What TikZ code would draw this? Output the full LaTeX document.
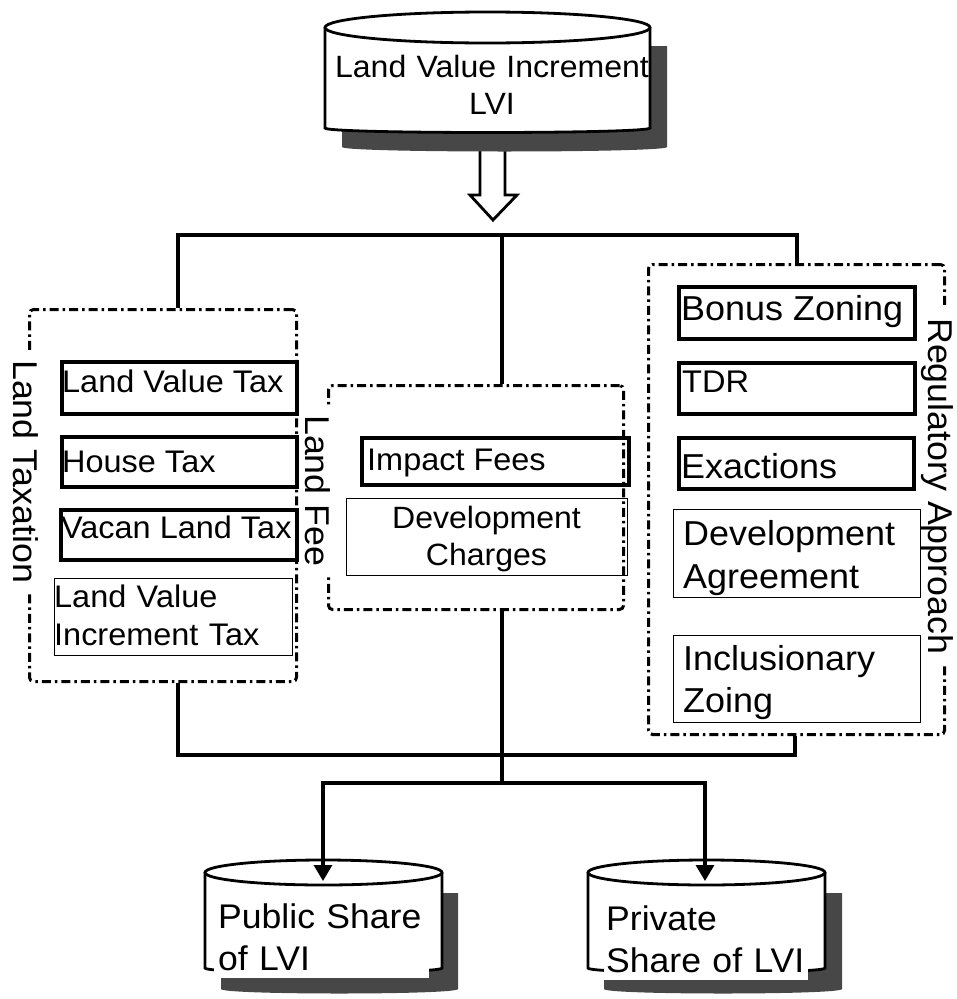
\documentclass[tikz,border=0pt]{standalone}
\usepackage{fontspec}
\setmainfont{Liberation Sans}[FakeStretch=1.04]
\usetikzlibrary{arrows.meta}
\begin{document}
\begin{tikzpicture}[x=1pt,y=-1pt,
  conn/.style={line width=3.2pt},
  grpbox/.style={draw, line width=3pt, dash pattern=on 9pt off 4pt on 2.5pt off 4pt, rounded corners=4pt, inner sep=0pt, anchor=north west},
  tbox/.style={draw, line width=3.6pt, inner sep=0pt, anchor=north west},
  nbox/.style={draw, line width=1.3pt, inner sep=0pt, anchor=north west},
  fS/.style={font=\fontsize{31.2}{38}\selectfont},
  fM/.style={font=\fontsize{30.8}{37}\selectfont},
  fL/.style={font=\fontsize{34.6}{43}\selectfont},
  fB/.style={font=\fontsize{34.2}{42}\selectfont},
  txt/.style={inner sep=0pt, anchor=base west},
  mtxt/.style={inner sep=0pt, anchor=base west, align=left},
  side/.style={font=\fontsize{34.4}{42}\selectfont, rotate=-90, anchor=base west, fill=white, inner xsep=10pt, inner ysep=2pt},
  shadowfill/.style={fill=black!72},
  tip/.style={-{Triangle[length=16pt,width=18pt]}}
]
\useasboundingbox (0,0) rectangle (957,999);

% ---------- top cylinder ----------
\draw[line width=2.8pt, fill=white] (480,145) -- (505,145) -- (505,195) -- (517,195) -- (493,220) -- (470,195) -- (480,195) -- cycle;
\fill[shadowfill] (342,46) -- (342,147) .. controls (342,153) and (667,153) .. (667,147) -- (667,46) -- cycle;
\draw[line width=2.8pt, fill=white] (325,27.5) -- (325,128) .. controls (325,134) and (650,134) .. (650,128) -- (650,27.5);
\draw[line width=2.8pt, fill=white] (487.5,27.5) ellipse [x radius=162.5, y radius=15.5];
\node[fM, inner sep=0pt, anchor=base, align=center, text width=320pt] (lvi) at (492,77) {Land Value Increment\\LVI};

% ---------- group boxes ----------
\node[grpbox, minimum width=267pt, minimum height=372pt] (tax) at (28,308) {};
\node[grpbox, minimum width=295pt, minimum height=224pt] (fee) at (327,384) {};
\node[grpbox, minimum width=296pt, minimum height=470pt] (reg) at (647,263) {};

\node[side] (taxlab) at (13,350) {Land Taxation};
\node[side] (feelab) at (305,405) {Land Fee};
\node[side] (reglab) at (928,308) {Regulatory Approach};

% ---------- land taxation items ----------
\node[tbox, minimum width=235pt, minimum height=52pt] (lvt) at (60,360) {};
\node[txt, fS] (lvtT) at (62,392) {Land Value Tax};
\node[tbox, minimum width=235pt, minimum height=50pt] (ht) at (60,435) {};
\node[txt, fS] (htT) at (62,472) {House Tax};
\node[tbox, minimum width=236pt, minimum height=50pt] (vlt) at (59,508) {};
\node[txt, fS] (vltT) at (61,538) {Vacan Land Tax};
\node[nbox, minimum width=238pt, minimum height=77pt] (lvit) at (54,578) {};
\node[mtxt, fS, text width=234pt] (lvitT) at (54,607) {Land Value\\Increment Tax};

% ---------- land fee items ----------
\node[tbox, minimum width=267pt, minimum height=47pt] (imp) at (360,436) {};
\node[txt, fS] (impT) at (367,470) {Impact Fees};
\node[nbox, minimum width=281pt, minimum height=77pt] (dev) at (346,498) {};
\node[fM, inner sep=0pt, anchor=base, align=center, text width=278pt] (devT) at (486.5,528) {Development\\Charges};

% ---------- regulatory items ----------
\node[tbox, minimum width=236pt, minimum height=52pt] (bz) at (677,285) {};
\node[txt, fL] (bzT) at (681,320) {Bonus Zoning};
\node[tbox, minimum width=236pt, minimum height=51pt] (tdr) at (677,361) {};
\node[txt, font=\fontsize{31.3}{38}\selectfont] (tdrT) at (682,392) {TDR};
\node[tbox, minimum width=235pt, minimum height=51pt] (ex) at (677,436) {};
\node[txt, fL] (exT) at (681,478) {Exactions};
\node[nbox, minimum width=247pt, minimum height=88pt] (da) at (673,509) {};
\node[mtxt, fL, text width=235pt] (daT) at (683,545) {Development\\Agreement};
\node[nbox, minimum width=247pt, minimum height=87pt] (iz) at (673,635) {};
\node[mtxt, font=\fontsize{34.6}{42}\selectfont, text width=235pt] (izT) at (683,670) {Inclusionary\\Zoing};

% ---------- upper connectors ----------
\coordinate (jL) at (178,235);
\coordinate (jM) at (502,235);
\coordinate (jR) at (797,235);
\draw[conn] (tax.north -| jL) -- (jL) -- (jR) -- (reg.north -| jR);
\draw[conn] (jM) -- (fee.north -| jM);

% ---------- bottom cylinders ----------
\fill[shadowfill] (221,893) -- (221,989) .. controls (221,995) and (458,995) .. (458,989) -- (458,893) -- cycle;
\draw[line width=2.8pt, fill=white] (205,872.5) -- (205,968) .. controls (205,974) and (442,974) .. (442,968) -- (442,872.5);
\draw[line width=2.8pt, fill=white] (323.5,872.5) ellipse [x radius=118.5, y radius=12.5];
\node[mtxt, fB, text width=207pt, fill=white, inner xsep=4pt, inner ysep=8pt] (pub) at (214,928) {Public Share\\of LVI};

\fill[shadowfill] (604,893) -- (604,989) .. controls (604,995) and (842,995) .. (842,989) -- (842,893) -- cycle;
\draw[line width=2.8pt, fill=white] (588,872.5) -- (588,968) .. controls (588,974) and (825,974) .. (825,968) -- (825,872.5);
\draw[line width=2.8pt, fill=white] (706.5,872.5) ellipse [x radius=118.5, y radius=12.5];
\node[mtxt, fB, text width=200pt, fill=white, inner xsep=2pt, inner ysep=8pt] (priv) at (604,930) {Private\\Share of LVI};

% ---------- lower connectors ----------
\coordinate (bL) at (178,755);
\coordinate (bR) at (795,755);
\coordinate (sM) at (502,783);
\coordinate (sL) at (323,783);
\coordinate (sR) at (705,783);
\coordinate (pubtop) at (323,881);
\coordinate (privtop) at (705,881);
\draw[conn] (tax.south -| bL) -- (bL) -- (bR) -- (reg.south -| bR);
\draw[conn] (fee.south -| sM) -- (sM);
\draw[conn, tip] (sM) -- (sL) -- (pubtop);
\draw[conn, tip] (sM) -- (sR) -- (privtop);
\end{tikzpicture}
\end{document}
